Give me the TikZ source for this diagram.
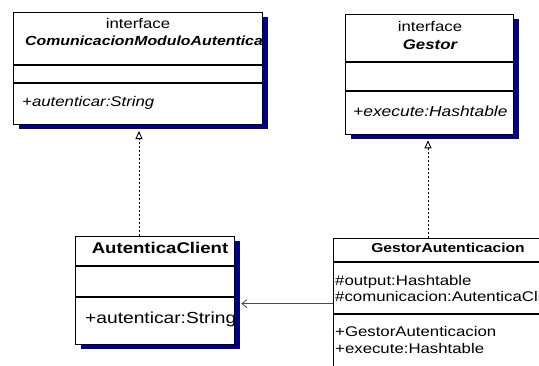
\documentclass[tikz,border=0pt]{standalone}
\usepackage{fontspec}
\setmainfont{Liberation Sans}[FakeStretch=1.2]
\usetikzlibrary{positioning,arrows.meta,shadows}
\definecolor{navy}{HTML}{000080}
\definecolor{graphite}{HTML}{4A4A4A}

\begin{document}
\begin{tikzpicture}[
      x=1pt,y=-1pt,
      cls/.style={draw=black,fill=white,line width=1.3pt,rectangle,anchor=north west,inner sep=0pt,
        drop shadow={fill=navy,opacity=1,shadow xshift=5pt,shadow yshift=-4.5pt}},
      sep/.style={line width=1.1pt},
      txt/.style={anchor=base west,inner sep=0pt,font=\fontsize{14}{16}\selectfont},
      big/.style={anchor=base west,inner sep=0pt,font=\fontsize{16}{18}\selectfont},
      small/.style={anchor=base west,inner sep=0pt,font=\fontsize{14}{16}\selectfont},
      realize/.style={-{Triangle[open,fill=white,length=8pt,width=7pt]},dash pattern=on 2.5pt off 1.5pt,line width=0.9pt},
      assoc/.style={-{Straight Barb[length=5pt,width=8pt]},graphite,line width=0.8pt}]
      \useasboundingbox (0,0) rectangle (539,365);
      \clip (0,0) rectangle (539,365);
      % interfaces
      \node[cls,minimum width=249pt,minimum height=112pt] (comunic) at (13,12) {};
      \draw[sep] ([yshift=-53pt]comunic.north west) -- ([yshift=-53pt]comunic.north east);
      \draw[sep] ([yshift=-71pt]comunic.north west) -- ([yshift=-71pt]comunic.north east);
      \begin{scope}
        \clip (comunic.north west) rectangle (comunic.south east);
        \node[txt,anchor=base] (comunic-st) at (138,28) {interface};
        \node[txt,font=\fontsize{13.2}{16}\selectfont\bfseries\itshape] (comunic-nm) at (25,45) {ComunicacionModuloAutentica};
        \node[txt,font=\fontsize{14}{16}\selectfont\itshape] (comunic-op) at (22,106) {+autenticar:String};
      \end{scope}
      \node[cls,minimum width=168pt,minimum height=120pt] (gestor) at (345,14) {};
      \draw[sep] ([yshift=-48pt]gestor.north west) -- ([yshift=-48pt]gestor.north east);
      \draw[sep] ([yshift=-77pt]gestor.north west) -- ([yshift=-77pt]gestor.north east);
      \node[txt,anchor=base] (gestor-st) at (430,31) {interface};
      \node[txt,anchor=base,font=\fontsize{14}{16}\selectfont\bfseries\itshape] (gestor-nm) at (430,49) {Gestor};
      \node[txt,font=\fontsize{14.5}{16}\selectfont\itshape] (gestor-op) at (353,116) {+execute:Hashtable};
      % classes
      \node[cls,minimum width=159pt,minimum height=108pt] (client) at (75,236) {};
      \draw[sep] ([yshift=-30pt]client.north west) -- ([yshift=-30pt]client.north east);
      \draw[sep] ([yshift=-61pt]client.north west) -- ([yshift=-61pt]client.north east);
      \begin{scope}
        \clip (client.north west) rectangle (client.south east);
        \node[big,anchor=base,font=\fontsize{15.5}{18}\selectfont\bfseries] (client-nm) at (160,253) {AutenticaClient};
        \node[big] (client-op) at (85,323) {+autenticar:String};
      \end{scope}
      \node[cls,minimum width=240pt,minimum height=130pt] (gauth) at (333,238) {};
      \draw[sep] ([yshift=-24pt]gauth.north west) -- ([yshift=-24pt]gauth.north east);
      \draw[sep] ([yshift=-76pt]gauth.north west) -- ([yshift=-76pt]gauth.north east);
      \node[small,anchor=base,font=\fontsize{13}{16}\selectfont\bfseries] (gauth-nm) at (448,252) {GestorAutenticacion};
      \node[small] (gauth-a1) at (335,285) {\#output:Hashtable};
      \node[small] (gauth-a2) at (335,301) {\#comunicacion:AutenticaCli};
      \node[small] (gauth-o1) at (335,336) {+GestorAutenticacion};
      \node[small] (gauth-o2) at (335,353) {+execute:Hashtable};
      % relations
      \draw[realize] (client.north -| 139,0) -- (139,131);
      \draw[realize] (gauth.north -| 428,0) -- ([yshift=-5pt]gestor.south -| 428,0);
      \draw[assoc] (gauth.west) -- ([xshift=6pt]gauth.west -| client.east);
    \end{tikzpicture}
\end{document}
